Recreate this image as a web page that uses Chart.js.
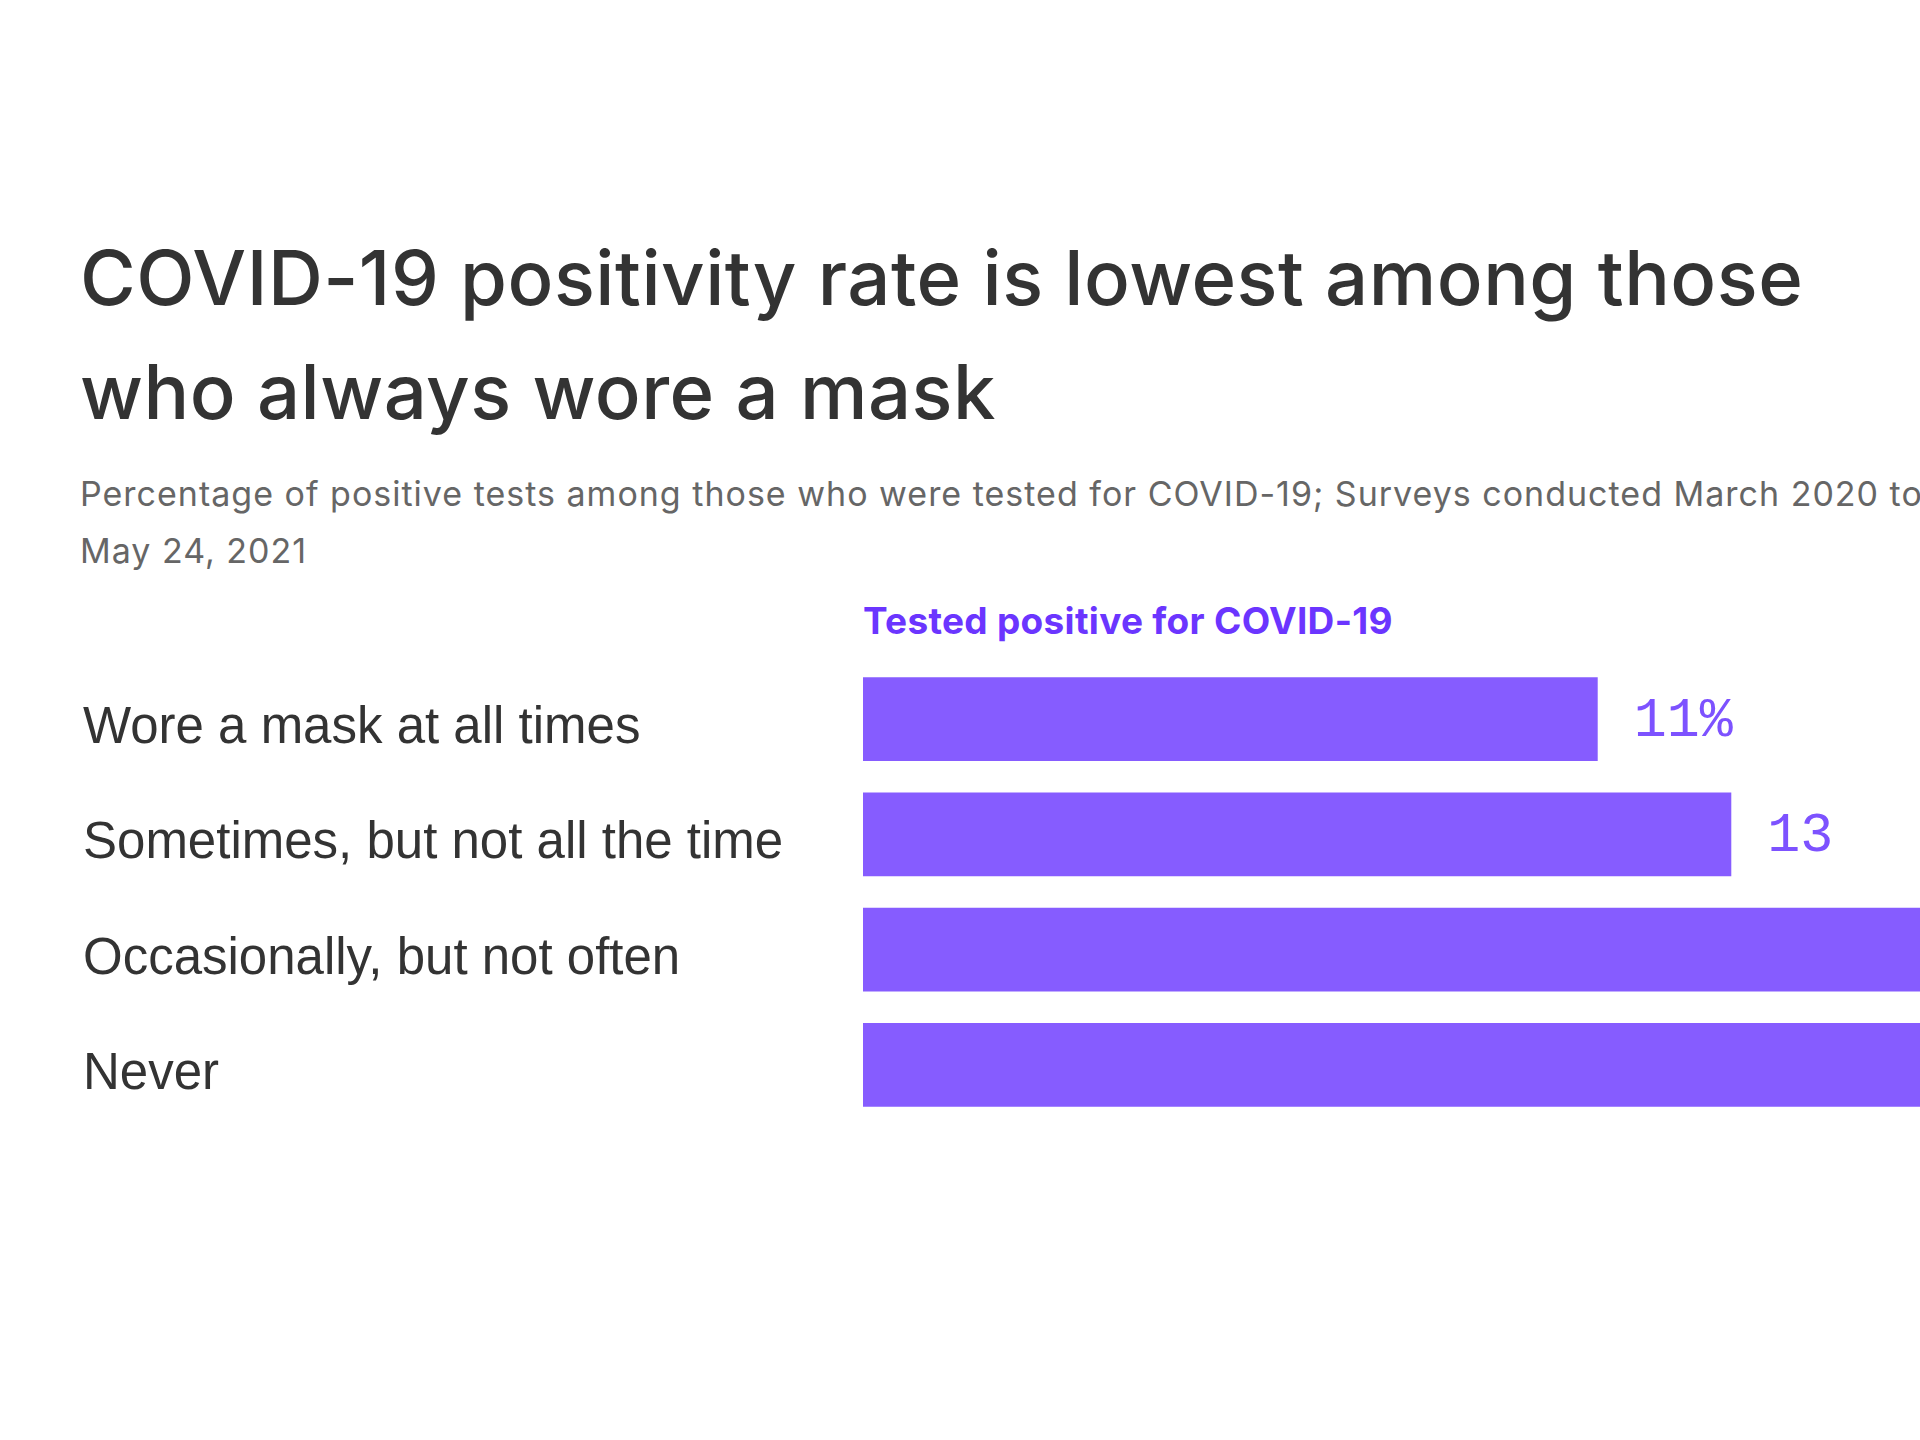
<!DOCTYPE html>
<html>
<head>
<meta charset="utf-8">
<script src="https://cdn.jsdelivr.net/npm/chart.js@4/dist/chart.umd.min.js"></script>
<style>
  html, body { margin: 0; padding: 0; background: #fff; }
  body { width: 1920px; height: 1440px; overflow: hidden; position: relative; }
  #page { position: absolute; left: 0; top: 0; width: 2600px; height: 1440px; }
  .title {
    position: absolute; left: 80px; top: 220px; margin: 0;
    font-family: Inter, sans-serif; font-weight: 500; font-size: 76px; line-height: 114px;
    color: #333; white-space: nowrap; letter-spacing: 0.5px;
  }
  .sub {
    position: absolute; left: 80px; top: 465px; margin: 0;
    font-family: Inter, sans-serif; font-size: 34px; line-height: 57px;
    color: #666; white-space: nowrap; letter-spacing: 1px;
  }
  .head {
    position: absolute; left: 863px; top: 598px; margin: 0;
    font-family: Inter, sans-serif; font-weight: 700; font-size: 37px; line-height: 46px;
    color: #6b35ff; white-space: nowrap; letter-spacing: 0.3px;
  }
  #chart { position: absolute; left: 0; top: 628px; }
</style>
</head>
<body>
<div id="page">
  <h1 class="title">COVID-19 positivity rate is lowest among those<br>who always wore a mask</h1>
  <p class="sub">Percentage of positive tests among those who were tested for COVID-19; Surveys conducted March 2020 to<br>May 24, 2021</p>
  <p class="head">Tested positive for COVID-19</p>
  <canvas id="chart" width="2500" height="528"></canvas>
</div>
<script>
const categories = [
  'Wore a mask at all times',
  'Sometimes, but not all the time',
  'Occasionally, but not often',
  'Never'
];
const positiveRate = [11, 13, 17, 21];
const valueLabels  = ['11%', '13', '17', '21'];

const BAR_COLOR   = '#865cff';
const LABEL_COLOR = '#7d52ff';

// value text sits to the right of each bar
const valueLabelPlugin = {
  id: 'valueLabels',
  afterDatasetsDraw(chart) {
    const ctx = chart.ctx;
    const meta = chart.getDatasetMeta(0);
    ctx.save();
    ctx.font = '55px "Liberation Mono", "DejaVu Sans Mono", monospace';
    ctx.fillStyle = LABEL_COLOR;
    ctx.textAlign = 'left';
    ctx.textBaseline = 'alphabetic';
    meta.data.forEach((bar, i) => {
      ctx.fillText(valueLabels[i], bar.x + 36, bar.y + 17);
    });
    ctx.restore();
  }
};

new Chart(document.getElementById('chart'), {
  type: 'bar',
  data: {
    labels: categories,
    datasets: [{
      data: positiveRate,
      backgroundColor: BAR_COLOR,
      borderWidth: 0,
      categoryPercentage: 1,
      barPercentage: 0.727
    }]
  },
  options: {
    indexAxis: 'y',
    responsive: false,
    animation: false,
    layout: { padding: { left: 83, right: 34, top: 0, bottom: 0 } },
    plugins: {
      legend: { display: false },
      tooltip: { enabled: false }
    },
    scales: {
      x: { display: false, min: 0, max: 24 },
      y: {
        grid: { display: false, drawTicks: false },
        border: { display: false },
        afterFit: scale => { scale.width = 780; },
        ticks: {
          crossAlign: 'far',
          labelOffset: 10,
          color: '#333',
          font: { family: '"Liberation Sans", Arial, sans-serif', size: 51 }
        }
      }
    }
  },
  plugins: [valueLabelPlugin]
});
</script>
</body>
</html>
